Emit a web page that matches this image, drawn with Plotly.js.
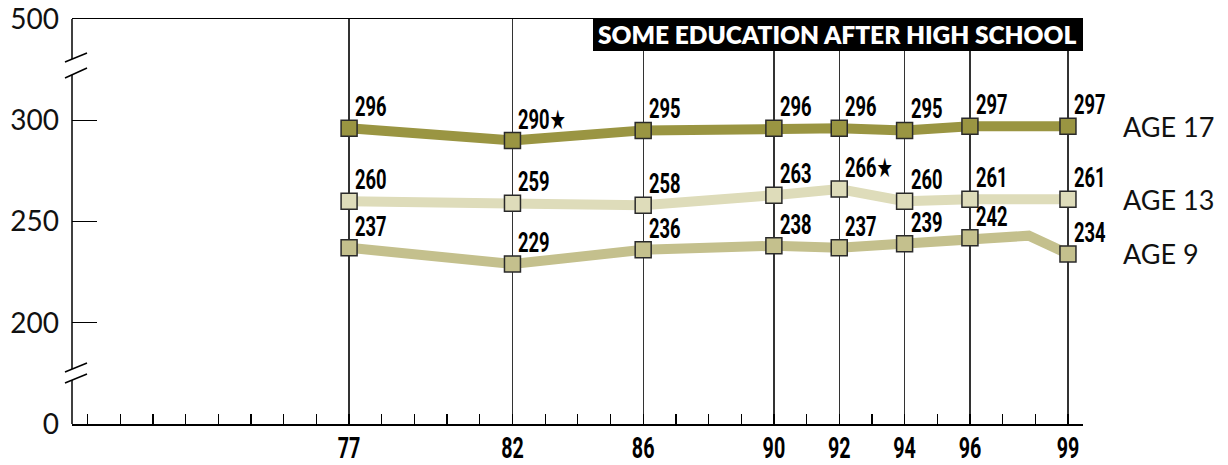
<!DOCTYPE html>
<html>
<head>
<meta charset="utf-8">
<script src="https://cdn.plot.ly/plotly-3.0.1.min.js"></script>
<style>html,body{margin:0;padding:0;background:#fff;}#chart{width:1228px;height:465px;}</style>
</head>
<body>
<div id="chart"></div>
<script>
// ---- data ----
const years = [77, 82, 86, 90, 92, 94, 96, 99];
const yearLabels = ["77", "82", "86", "90", "92", "94", "96", "99"];
const age17 = [296, 290, 295, 296, 296, 295, 297, 297];
const age13 = [260, 259, 258, 263, 266, 260, 261, 261];
const age9  = [237, 229, 236, 238, 237, 239, 242, 234];
const age17Labels = ["296", "290★", "295", "296", "296", "295", "297", "297"];
const age13Labels = ["260", "259", "258", "263", "266★", "260", "261", "261"];
const age9Labels  = ["237", "229", "236", "238", "237", "239", "242", "234"];
// age 9 line has an extra bend (no marker) between 96 and 99
const age9BendYear = 97.8;
const age9BendValue = 243;
const seriesNames = ["AGE 17", "AGE 13", "AGE 9"];
const yTickVals = [150, 200, 250, 300, 350];
const yTickText = ["0", "200", "250", "300", "500"];
const chartTitle = "SOME EDUCATION AFTER HIGH SCHOOL";

// ---- styles ----
const colors = {a17: "#9a9542", a13: "#dedcba", a9: "#c4c08d"};
const condFamily = "Roboto, 'DejaVu Sans', sans-serif";
const labelFont = {family: condFamily, size: 27, color: "#000", weight: 700};
const lightFont = {family: "Lato, 'Open Sans', sans-serif", size: 28, color: "#111"};
const ageFont = {family: "Lato, 'Open Sans', sans-serif", size: 27, color: "#111"};
const squeeze = 0.68;

function lineTrace(x, y, color) {
  return {x: x, y: y, mode: "lines", type: "scatter", line: {color: color, width: 10}, hoverinfo: "skip", showlegend: false};
}
function markerTrace(x, y, color) {
  return {x: x, y: y, mode: "markers", type: "scatter",
    marker: {symbol: "square", size: 16, color: color, line: {color: "#2a2a2a", width: 1.5}},
    hoverinfo: "skip", showlegend: false};
}

const a9x = years.slice(0, 7).concat([age9BendYear, years[7]]);
const a9y = age9.slice(0, 7).concat([age9BendValue, age9[7]]);

const traces = [
  lineTrace(a9x, a9y, colors.a9),
  lineTrace(years, age13, colors.a13),
  lineTrace(years, age17, colors.a17),
  markerTrace(years, age9, colors.a9),
  markerTrace(years, age13, colors.a13),
  markerTrace(years, age17, colors.a17)
];

const annotations = [];
[[age17, age17Labels], [age13, age13Labels], [age9, age9Labels]].forEach(function (s) {
  s[0].forEach(function (v, i) {
    annotations.push({x: years[i], y: v, xref: "x", yref: "y", text: s[1][i], showarrow: false,
      xanchor: "left", yanchor: "bottom", xshift: 4, yshift: 3, font: labelFont});
  });
});
const nDataLabels = annotations.length;
[age17, age13, age9].forEach(function (s, k) {
  annotations.push({x: 1.0376, xref: "paper", y: s[s.length - 1], yref: "y", text: seriesNames[k],
    showarrow: false, xanchor: "left", yanchor: "middle", font: ageFont});
});
annotations.push({x: 0.7576, xref: "paper", y: 0.9605, yref: "paper", text: chartTitle, showarrow: false,
  xanchor: "center", yanchor: "middle", font: {family: "Lato, sans-serif", size: 24.5, color: "#fff", weight: 800}});

const ax = {type: "line", xref: "paper", yref: "paper", line: {color: "#000", width: 1.5}};
function seg(x0, y0, x1, y1) { return Object.assign({}, ax, {x0: x0, y0: y0, x1: x1, y1: y1}); }
function py(p) { return (424 - p) / 405; }
function px(p) { return (p - 72) / 1011; }
const shapes = [
  {type: "rect", xref: "paper", yref: "paper", x0: px(593), x1: 1, y0: py(51), y1: 1, fillcolor: "#000", line: {width: 0}},
  seg(0, py(19), 0, py(59)),
  seg(0, py(75), 0, py(369)),
  seg(0, py(380), 0, py(424)),
  seg(px(65), py(62), px(87), py(53)),
  seg(px(65), py(78), px(87), py(68)),
  seg(px(65), py(372), px(87), py(363)),
  seg(px(65), py(383), px(87), py(374))
];

const layout = {
  width: 1228, height: 465,
  margin: {l: 72, r: 145, t: 19, b: 41},
  paper_bgcolor: "#fff", plot_bgcolor: "#fff",
  showlegend: false,
  xaxis: {
    range: [68.52, 99.46], tickmode: "array", tickvals: years, ticktext: yearLabels,
    showgrid: true, gridcolor: "#333", gridwidth: 1.3, zeroline: false,
    showline: true, linecolor: "#000", linewidth: 1.5, mirror: true,
    ticks: "", tickfont: {family: condFamily, size: 29, color: "#000", weight: 700},
    ticklabelstandoff: -2,
    minor: {tick0: 69, dtick: 1, ticks: "inside", ticklen: 10, tickcolor: "#000", tickwidth: 1.3, showgrid: false}
  },
  yaxis: {
    range: [150, 350], tickmode: "array", tickvals: yTickVals, ticktext: yTickText,
    showgrid: false, zeroline: false, showline: false,
    ticks: "inside", ticklen: 25, tickcolor: "#000", tickwidth: 1.3,
    tickfont: lightFont, ticklabelstandoff: 12
  },
  shapes: shapes,
  annotations: annotations
};

// narrow (condensed) look: compress glyphs horizontally, keeping the text as real text
function condense(el, mode) {
  const bb = el.getBBox();
  if (!bb.width) return;
  const w = bb.width * squeeze;
  let x0;
  if (mode === "left") x0 = bb.x;
  else x0 = bb.x + (bb.width - w) / 2;
  el.querySelectorAll("tspan").forEach(function (t) { t.removeAttribute("x"); });
  el.setAttribute("x", x0);
  el.setAttribute("text-anchor", "start");
  el.setAttribute("textLength", w);
  el.setAttribute("lengthAdjust", "spacingAndGlyphs");
}

Plotly.newPlot("chart", traces, layout, {staticPlot: true, displayModeBar: false}).then(function (gd) {
  gd.querySelectorAll("g.annotation").forEach(function (g) {
    const idx = +g.getAttribute("data-index");
    if (idx < nDataLabels) {
      const t = g.querySelector("text.annotation-text");
      if (t) condense(t, "left");
    }
  });
  gd.querySelectorAll("g.xtick text").forEach(function (t) { condense(t, "center"); });
});
</script>
</body>
</html>
